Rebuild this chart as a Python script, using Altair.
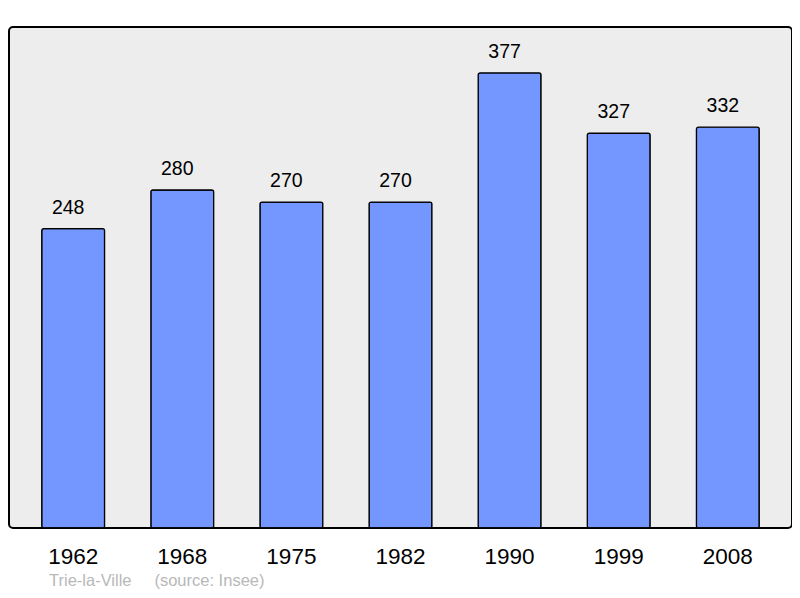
import altair as alt
import pandas as pd

years = ["1962", "1968", "1975", "1982", "1990", "1999", "2008"]
population = [248, 280, 270, 270, 377, 327, 332]

df = pd.DataFrame({"year": years, "pop": population})

x = alt.X("year:N", sort=years,
          scale=alt.Scale(paddingInner=0.424, paddingOuter=0.30),
          axis=alt.Axis(title=None, domain=False, ticks=False, labelAngle=0,
                        labelFontSize=22.5, labelColor="#000000", labelPadding=17,
                        labelFont="Liberation Sans"))
y = alt.Y("pop:Q", scale=alt.Scale(domain=[0, 415], nice=False), axis=None)

bars = alt.Chart(df).mark_bar(color="#7396ff", stroke="#000000", strokeWidth=1.3,
                              cornerRadius=2).encode(x=x, y=y)
labels = alt.Chart(df).mark_text(baseline="alphabetic", dy=-15, dx=-5, fontSize=19.5,
                                 font="Liberation Sans", color="#000000").encode(
    x=x, y=y, text="pop:Q")

chart = (bars + labels).properties(
    width=783, height=501,
    autosize=alt.AutoSizeParams(type="none"),
    padding={"left": 1, "top": 19, "right": 0, "bottom": 62},
    title=alt.TitleParams("Trie-la-Ville\u00a0\u00a0\u00a0\u00a0\u00a0(source: Insee)",
                          orient="bottom", anchor="start", dx=40, offset=5,
                          fontSize=16.5, fontWeight="normal", color="#b8b8b8",
                          font="Liberation Sans"),
).configure_view(
    fill="#ededed", stroke="#000000", strokeWidth=2, cornerRadius=4
)

chart.save("out.html", embed_options={"renderer": "svg", "actions": False})
